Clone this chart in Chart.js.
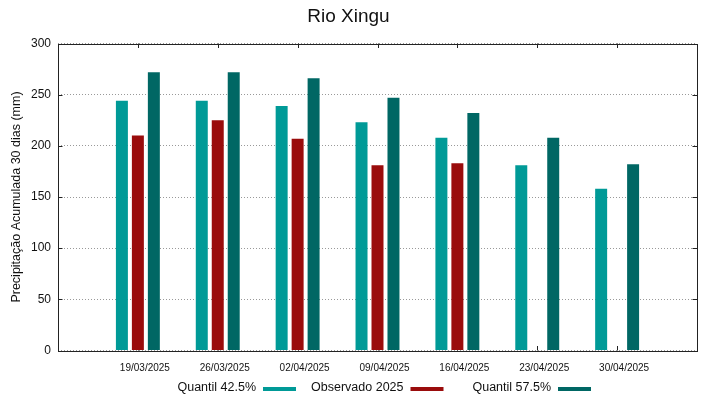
<!DOCTYPE html>
<html lang="pt-BR">
<head>
<meta charset="utf-8">
<title>Rio Xingu</title>
<script src="https://cdn.jsdelivr.net/npm/chart.js@4/dist/chart.umd.min.js"></script>
<style>
  html, body { margin: 0; padding: 0; background: #fff; }
  #wrap { width: 719px; height: 399px; }
</style>
</head>
<body>
<div id="wrap"><canvas id="myChart" width="719" height="399"></canvas></div>
<script>
// Dados do gráfico
const datas = ['19/03/2025', '26/03/2025', '02/04/2025', '09/04/2025', '16/04/2025', '23/04/2025', '30/04/2025'];
const quantil425 = [244, 244, 239, 223, 208, 181, 158];
const observado2025 = [210, 225, 207, 181, 183, null, null];
const quantil575 = [272, 272, 266, 247, 232, 208, 182];
const yTicks = [0, 50, 100, 150, 200, 250, 300];

// posições vazias nas pontas, como no gráfico original
const labels = [''].concat(datas, ['']);
const pad = arr => [null].concat(arr, [null]);

Chart.defaults.font.family = "'Liberation Sans', Arial, sans-serif";
Chart.defaults.color = '#111';

// moldura e marcas internas (estilo gnuplot)
const moldura = {
  id: 'moldura',
  beforeDatasetsDraw(chart) {
    const { ctx, chartArea: a, scales } = chart;
    const tl = 4.5;
    ctx.save();
    ctx.strokeStyle = '#222';
    ctx.lineWidth = 1;
    ctx.beginPath();
    yTicks.forEach(v => {
      const y = Math.round(scales.y.getPixelForValue(v)) + 0.5;
      ctx.moveTo(a.left, y); ctx.lineTo(a.left + tl, y);
      ctx.moveTo(a.right, y); ctx.lineTo(a.right - tl, y);
    });
    datas.forEach((d, i) => {
      const x = Math.round(scales.x.getPixelForValue(i + 1)) + 0.5;
      ctx.moveTo(x, a.bottom); ctx.lineTo(x, a.bottom - tl);
      ctx.moveTo(x, a.top); ctx.lineTo(x, a.top + tl);
    });
    ctx.stroke();
    ctx.restore();
  },
  afterDatasetsDraw(chart) {
    const { ctx, chartArea: a } = chart;
    ctx.save();
    ctx.strokeStyle = '#222';
    ctx.lineWidth = 1;
    ctx.strokeRect(Math.round(a.left) + 0.5, Math.round(a.top) + 0.5,
      Math.round(a.right - a.left), Math.round(a.bottom - a.top));
    ctx.restore();
  }
};

// legenda com o texto antes da amostra
const legenda = {
  id: 'legenda',
  afterDraw(chart) {
    const { ctx } = chart;
    ctx.save();
    ctx.font = "12.5px 'Liberation Sans', Arial, sans-serif";
    ctx.textAlign = 'right';
    ctx.textBaseline = 'middle';
    chart.data.datasets.forEach((ds, i) => {
      const xText = 256 + i * 147.5;
      ctx.fillStyle = '#111';
      ctx.fillText(ds.label, xText, 388);
      ctx.fillStyle = ds.backgroundColor;
      ctx.fillRect(xText + 7, 387, 33, 4);
    });
    ctx.restore();
  }
};

const ctx = document.getElementById('myChart').getContext('2d');
const myChart = new Chart(ctx, {
  type: 'bar',
  data: {
    labels: labels,
    datasets: [
      { label: 'Quantil 42.5%', data: pad(quantil425), backgroundColor: '#009a97' },
      { label: 'Observado 2025', data: pad(observado2025), backgroundColor: '#9a0c0c' },
      { label: 'Quantil 57.5%', data: pad(quantil575), backgroundColor: '#006764' }
    ]
  },
  options: {
    responsive: false,
    animation: false,
    barPercentage: 0.75,
    categoryPercentage: 0.6,
    layout: { padding: { left: 0, right: 22, top: 0, bottom: 0 } },
    plugins: {
      legend: { display: false },
      tooltip: { enabled: false },
      title: {
        display: true,
        text: 'Rio Xingu',
        color: '#111',
        font: { size: 19, weight: 'normal' },
        padding: { top: 5, bottom: 15.7 }
      }
    },
    scales: {
      x: {
        type: 'category',
        offset: false,
        grid: { display: false },
        border: { display: false },
        ticks: {
          font: { size: 10 },
          color: '#111',
          autoSkip: false,
          maxRotation: 0,
          labelOffset: 7,
          padding: 4
        },
        afterFit(scale) { scale.height = 48.5; }
      },
      y: {
        min: 0,
        max: 300,
        border: { display: false, dash: [1, 2] },
        grid: {
          color: '#999',
          lineWidth: 1,
          drawTicks: false
        },
        ticks: {
          stepSize: 50,
          font: { size: 12 },
          color: '#111',
          padding: 7
        },
        title: {
          display: true,
          text: 'Precipitação Acumulada 30 dias (mm)',
          color: '#111',
          font: { size: 12.5 },
          padding: { top: 9.5, bottom: 0 }
        },
        afterFit(scale) { scale.width = 58; }
      }
    }
  },
  plugins: [moldura, legenda]
});
</script>
</body>
</html>
